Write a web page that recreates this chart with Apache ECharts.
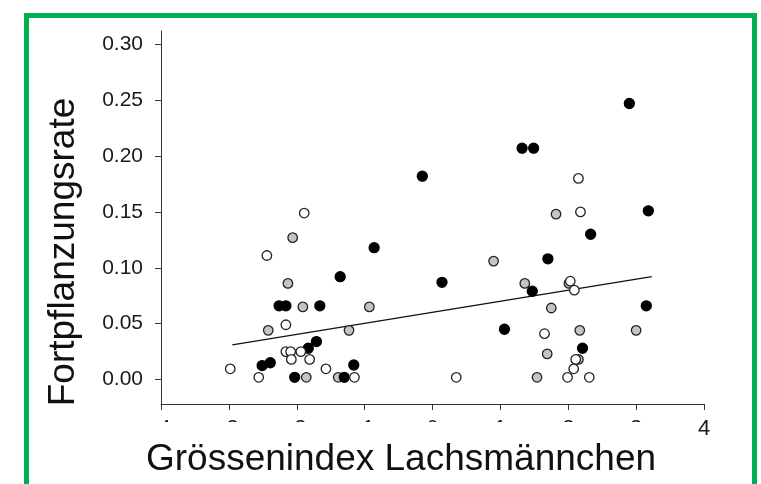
<!DOCTYPE html>
<html>
<head>
<meta charset="utf-8">
<script src="https://cdn.jsdelivr.net/npm/echarts@6/dist/echarts.min.js"></script>
<style>
  html, body { margin: 0; padding: 0; background: #fff; }
  #chart { width: 761px; height: 484px; }
</style>
</head>
<body>
<div id="chart"></div>
<script>
// Größenindex (x) und Fortpflanzungsrate (y), drei Gruppen
const blackX = [2.90, 1.32, 1.49, -0.15, 3.18, 2.33, -0.86, 1.70, -1.36, 0.14, 1.47, -2.26, -2.16, -1.66, 3.15, 1.06, -1.71, -1.83, 2.21, -2.51, -2.39, -1.16, -2.03, -1.30];
const blackY = [0.247, 0.207, 0.207, 0.182, 0.151, 0.130, 0.118, 0.108, 0.092, 0.087, 0.079, 0.066, 0.066, 0.066, 0.066, 0.045, 0.034, 0.028, 0.028, 0.0125, 0.015, 0.013, 0.002, 0.002];

const greyX = [-2.06, -2.13, -1.91, -0.93, -2.42, -1.23, -1.86, -1.39, 1.82, 0.90, 1.36, 2.01, 1.75, 2.17, 3.00, 1.69, 2.15, 1.54];
const greyY = [0.127, 0.086, 0.065, 0.065, 0.044, 0.044, 0.002, 0.002, 0.148, 0.106, 0.086, 0.086, 0.064, 0.044, 0.044, 0.023, 0.018, 0.002];

const whiteX = [-1.89, -2.44, -2.16, -2.16, -2.09, -1.94, -2.08, -1.81, -2.98, -1.57, -2.56, -1.15, 2.15, 2.18, 2.03, 2.09, 1.65, 2.11, 2.08, 0.35, 1.99, 2.31];
const whiteY = [0.149, 0.111, 0.049, 0.025, 0.025, 0.025, 0.018, 0.018, 0.0096, 0.0096, 0.002, 0.002, 0.180, 0.150, 0.088, 0.080, 0.041, 0.018, 0.0096, 0.002, 0.002, 0.002];

// Regressionsgerade
const fitX = [-2.95, 3.23];
const fitY = [0.031, 0.092];

const yTicks = [0, 0.05, 0.10, 0.15, 0.20, 0.25, 0.30];

const font = 'Liberation Sans, Arial, sans-serif';
const zip = (xs, ys) => xs.map((x, i) => [x, ys[i]]);

const chart = echarts.init(document.getElementById('chart'));

const pointStyle = (fill, border) => ({
  type: 'scatter',
  symbol: 'circle',
  symbolSize: 9.5,
  itemStyle: { color: fill, borderColor: border, borderWidth: 1.3, opacity: 1 },
  emphasis: { disabled: true },
});

chart.setOption({
  animation: false,
  backgroundColor: '#fff',
  grid: {
    left: 161,
    right: 57,
    top: 31,
    bottom: 80,
    containLabel: false,
    outerBoundsMode: 'none'
  },
  xAxis: {
    type: 'value',
    min: -4,
    max: 4,
    interval: 1,
    splitLine: { show: false },
    axisLine: { show: true, onZero: false, lineStyle: { color: '#333', width: 1 } },
    axisTick: { show: true, length: 6, lineStyle: { color: '#333' } },
    axisLabel: {
      show: true,
      margin: 14,
      fontSize: 22,
      fontFamily: font,
      color: '#1a1a1a',
      showMinLabel: true,
      showMaxLabel: true
    }
  },
  yAxis: {
    type: 'value',
    min: -0.0219,
    max: 0.3119,
    splitLine: { show: false },
    axisLine: { show: true, onZero: false, lineStyle: { color: '#333', width: 1 } },
    axisTick: { show: true, length: 6, customValues: yTicks, lineStyle: { color: '#333' } },
    axisLabel: {
      show: true,
      margin: 18,
      fontSize: 21,
      fontFamily: font,
      color: '#1a1a1a',
      customValues: yTicks,
      formatter: v => v.toFixed(2)
    }
  },
  series: [
    {
      type: 'line',
      data: zip(fitX, fitY),
      symbol: 'none',
      lineStyle: { color: '#111', width: 1.3 },
      emphasis: { disabled: true },
      z: 1
    },
    Object.assign(pointStyle('#c4c4c4', '#222'), { data: zip(greyX, greyY), z: 2 }),
    Object.assign(pointStyle('#000', '#000'), { data: zip(blackX, blackY), symbolSize: 10, z: 3 }),
    Object.assign(pointStyle('#fff', '#222'), { data: zip(whiteX, whiteY), z: 4 })
  ],
  graphic: [
    {
      type: 'rect',
      z: 100,
      shape: { x: 140, y: 422, width: 545, height: 62 },
      style: { fill: '#fff' }
    },
    {
      type: 'text',
      z: 101,
      x: 401,
      y: 460,
      style: {
        text: 'Grössenindex Lachsmännchen',
        font: '37px ' + font,
        fill: '#111',
        textAlign: 'center',
        textVerticalAlign: 'middle'
      }
    },
    {
      type: 'text',
      z: 101,
      x: 64,
      y: 252,
      rotation: Math.PI / 2,
      style: {
        text: 'Fortpflanzungsrate',
        font: '37px ' + font,
        fill: '#111',
        textAlign: 'center',
        textVerticalAlign: 'middle'
      }
    },
    {
      type: 'rect',
      z: 102,
      shape: { x: 26.5, y: 15.5, width: 728, height: 500 },
      style: { fill: 'none', stroke: '#00b050', lineWidth: 5 }
    }
  ]
});

window.addEventListener('resize', () => chart.resize());
</script>
</body>
</html>
